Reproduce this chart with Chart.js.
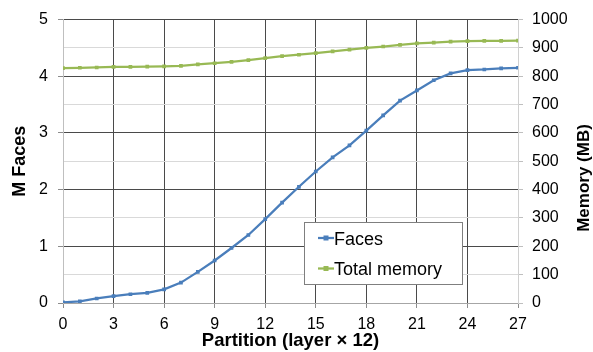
<!DOCTYPE html>
<html>
<head>
<meta charset="utf-8">
<script src="https://cdn.jsdelivr.net/npm/chart.js@4.4.0/dist/chart.umd.min.js"></script>
<style>
  html, body { margin: 0; padding: 0; background: #fff; }
  #wrap { width: 593px; height: 352px; }
</style>
</head>
<body>
<div id="wrap"><canvas id="myChart" width="593" height="352"></canvas></div>
<script>
// partition index 0..27
var partitions = [0,1,2,3,4,5,6,7,8,9,10,11,12,13,14,15,16,17,18,19,20,21,22,23,24,25,26,27];
// millions of faces (left axis)
var faces = [0.01,0.03,0.08,0.12,0.155,0.18,0.24,0.36,0.55,0.75,0.97,1.20,1.48,1.77,2.05,2.32,2.57,2.78,3.04,3.31,3.57,3.75,3.93,4.05,4.11,4.12,4.14,4.15];
// total memory in MB (right axis)
var memory = [829,830,831,833,833,834,835,837,842,846,851,857,864,871,876,882,888,894,900,905,911,916,919,922,924,925,925,926];
var xTicks = [0,3,6,9,12,15,18,21,24,27];
var facesTicks = [0,1,2,3,4,5];
var memTicks = [0,100,200,300,400,500,600,700,800,900,1000];

var blue = '#4a7ebb';
var green = '#98b954';
var font = "'Liberation Sans', Arial, sans-serif";

function pts(ys) {
    return partitions.map(function (x, i) { return {x: x, y: ys[i]}; });
}
function plain(v) { return String(v); }

// legend drawn inside the plot, Excel style
var boxLegend = {
    id: 'boxLegend',
    afterDraw: function (chart) {
        var ctx = chart.ctx;
        var left = 304.5, top = 222.5, w = 158, h = 62;
        ctx.save();
        ctx.fillStyle = '#fff';
        ctx.fillRect(left, top, w, h);
        ctx.strokeStyle = '#7f7f7f';
        ctx.lineWidth = 1;
        ctx.strokeRect(left, top, w, h);
        ctx.font = '18px ' + font;
        ctx.textBaseline = 'alphabetic';
        ctx.textAlign = 'left';
        chart.data.datasets.forEach(function (ds, i) {
            var cy = 238 + i * 30.5;
            ctx.strokeStyle = ds.borderColor;
            ctx.lineWidth = 2.25;
            ctx.beginPath();
            ctx.moveTo(318, cy);
            ctx.lineTo(334, cy);
            ctx.stroke();
            ctx.fillStyle = ds.borderColor;
            ctx.fillRect(323.5, cy - 2.5, 5, 5);
            ctx.fillStyle = '#000';
            ctx.fillText(ds.label, 334, cy + 6.5);
        });
        // right axis title, reading bottom to top
        ctx.translate(589, 178);
        ctx.rotate(-Math.PI / 2);
        ctx.textAlign = 'center';
        ctx.font = 'bold 17px ' + font;
        ctx.fillText('Memory (MB)', 0, 0);
        ctx.restore();
    }
};

const config = {
    type: 'line',
    data: {
        datasets: [{
            label: 'Faces',
            data: pts(faces),
            yAxisID: 'y',
            borderColor: blue,
            backgroundColor: blue,
            borderWidth: 2.25,
            pointStyle: 'rect',
            pointRadius: 2.6,
            pointBorderWidth: 0,
            tension: 0
        }, {
            label: 'Total memory',
            data: pts(memory),
            yAxisID: 'y1',
            borderColor: green,
            backgroundColor: green,
            borderWidth: 2.25,
            pointStyle: 'rect',
            pointRadius: 2.6,
            pointBorderWidth: 0,
            tension: 0
        }]
    },
    options: {
        responsive: false,
        animation: false,
        devicePixelRatio: 1,
        layout: { padding: { top: 14, left: 0, right: 0, bottom: 0 } },
        plugins: {
            legend: { display: false },
            tooltip: { enabled: false }
        },
        scales: {
            x: {
                type: 'linear',
                min: 0,
                max: 27,
                afterBuildTicks: function (s) { s.ticks = xTicks.map(function (v) { return {value: v}; }); },
                afterFit: function (s) { s.height = 49; },
                ticks: { color: '#000', padding: 7, callback: plain, font: { family: font, size: 16 } },
                grid: {
                    color: function (c) { return (c.tick && (c.tick.value === 0 || c.tick.value === 27)) ? 'rgba(0,0,0,0)' : '#4a4a4a'; },
                    tickColor: '#8c8c8c',
                    tickLength: 5
                },
                border: { display: true, color: '#a6a6a6' },
                title: {
                    display: true,
                    text: 'Partition (layer × 12)',
                    color: '#000',
                    font: { family: font, size: 18.5, weight: 'bold' },
                    padding: { top: 0, bottom: 0 }
                }
            },
            y: {
                position: 'left',
                min: 0,
                max: 5,
                afterBuildTicks: function (s) { s.ticks = facesTicks.map(function (v) { return {value: v}; }); },
                afterFit: function (s) { s.width = 63; },
                ticks: { color: '#000', padding: 10, callback: plain, font: { family: font, size: 16 } },
                grid: {
                    color: function (c) { return (c.tick && c.tick.value === 0) ? 'rgba(0,0,0,0)' : '#4a4a4a'; },
                    tickColor: '#8c8c8c',
                    tickLength: 5
                },
                border: { display: true, color: '#bfbfbf' },
                title: {
                    display: true,
                    text: 'M Faces',
                    color: '#000',
                    font: { family: font, size: 18, weight: 'bold' },
                    padding: { top: 9, bottom: 0 }
                }
            },
            y1: {
                position: 'right',
                min: 0,
                max: 1000,
                afterBuildTicks: function (s) { s.ticks = memTicks.map(function (v) { return {value: v}; }); },
                afterFit: function (s) { s.width = 75; },
                ticks: { color: '#000', padding: 9, callback: plain, font: { family: font, size: 16 } },
                grid: {
                    color: function (c) { return (c.tick && c.tick.value % 200 === 0) ? 'rgba(0,0,0,0)' : '#d9d9d9'; },
                    tickColor: '#bfbfbf',
                    tickLength: 5
                },
                border: { display: true, color: '#d0d0d0' }
            }
        }
    },
    plugins: [boxLegend]
};
new Chart(document.getElementById('myChart'), config);
</script>
</body>
</html>
